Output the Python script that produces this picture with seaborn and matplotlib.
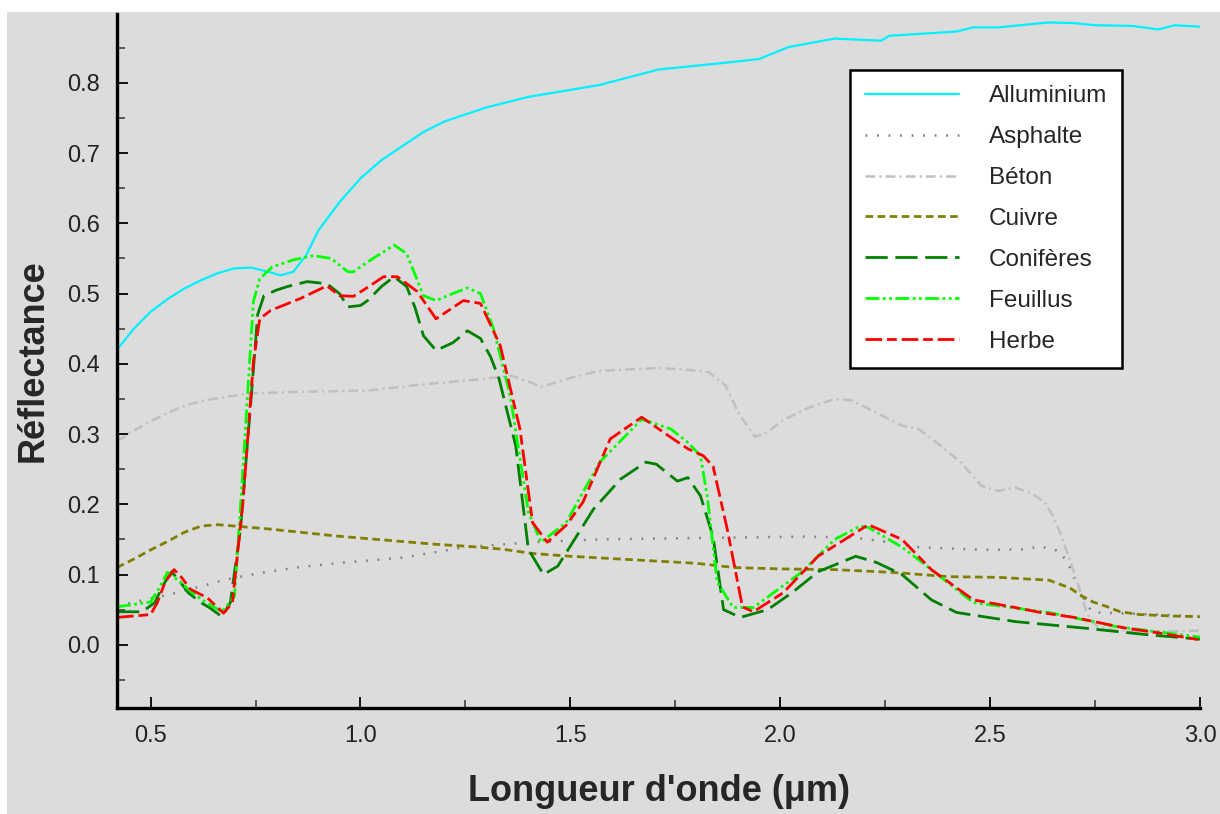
import matplotlib
matplotlib.use("Agg")
import matplotlib.pyplot as plt
from matplotlib.ticker import MultipleLocator, FixedLocator, FormatStrFormatter
from matplotlib.patches import Rectangle
import seaborn as sns

# ---------------- data ----------------
alu_x = [0.42, 0.46, 0.50, 0.54, 0.58, 0.62, 0.66, 0.70, 0.74, 0.78, 0.81, 0.84, 0.87, 0.90,
         0.95, 1.00, 1.05, 1.10, 1.15, 1.20, 1.30, 1.40, 1.50, 1.57, 1.71, 1.86, 1.95, 2.02,
         2.13, 2.24, 2.26, 2.42, 2.46, 2.52, 2.64, 2.70, 2.75, 2.84, 2.90, 2.94, 3.00]
alu_y = [0.420, 0.450, 0.474, 0.492, 0.507, 0.519, 0.529, 0.536, 0.537, 0.531, 0.526, 0.531,
         0.554, 0.590, 0.630, 0.664, 0.690, 0.710, 0.730, 0.745, 0.765, 0.780, 0.790, 0.797,
         0.819, 0.828, 0.834, 0.851, 0.863, 0.860, 0.867, 0.873, 0.879, 0.879, 0.886, 0.885,
         0.882, 0.881, 0.876, 0.882, 0.880]

asp_x = [0.42, 0.47, 0.54, 0.60, 0.68, 0.76, 0.86, 0.96, 1.10, 1.25, 1.41, 1.57, 1.80, 2.05,
         2.17, 2.26, 2.33, 2.40, 2.50, 2.58, 2.62, 2.667, 2.69, 2.70, 2.73, 2.745, 2.80, 2.90, 3.00]
asp_y = [0.055, 0.062, 0.071, 0.080, 0.093, 0.102, 0.111, 0.117, 0.124, 0.139, 0.146, 0.150,
         0.152, 0.154, 0.153, 0.146, 0.139, 0.137, 0.135, 0.136, 0.140, 0.133, 0.110, 0.096,
         0.057, 0.046, 0.045, 0.043, 0.040]

bet_x = [0.42, 0.46, 0.50, 0.54, 0.58, 0.62, 0.68, 0.74, 0.85, 1.02, 1.17, 1.25, 1.33, 1.36,
         1.40, 1.43, 1.50, 1.57, 1.64, 1.71, 1.77, 1.83, 1.87, 1.90, 1.94, 1.97, 2.01, 2.07,
         2.13, 2.17, 2.23, 2.29, 2.33, 2.37, 2.43, 2.48, 2.52, 2.56, 2.60, 2.63, 2.65, 2.67,
         2.69, 2.71, 2.73, 2.755, 2.80, 2.90, 3.00]
bet_y = [0.290, 0.305, 0.318, 0.330, 0.340, 0.347, 0.353, 0.358, 0.360, 0.362, 0.372, 0.376,
         0.381, 0.383, 0.375, 0.367, 0.380, 0.390, 0.392, 0.394, 0.392, 0.388, 0.369, 0.330,
         0.296, 0.303, 0.321, 0.338, 0.350, 0.348, 0.330, 0.312, 0.307, 0.289, 0.260, 0.226,
         0.219, 0.224, 0.215, 0.203, 0.183, 0.155, 0.120, 0.085, 0.045, 0.026, 0.020, 0.019, 0.020]

cui_x = [0.42, 0.46, 0.50, 0.54, 0.58, 0.62, 0.66, 0.70, 0.78, 0.86, 0.94, 1.02, 1.10, 1.18,
         1.26, 1.34, 1.41, 1.50, 1.65, 1.80, 1.89, 2.00, 2.13, 2.27, 2.40, 2.52, 2.64, 2.69,
         2.714, 2.745, 2.78, 2.81, 2.857, 2.93, 3.00]
cui_y = [0.110, 0.122, 0.135, 0.147, 0.160, 0.169, 0.171, 0.169, 0.165, 0.160, 0.155, 0.151,
         0.147, 0.143, 0.140, 0.136, 0.130, 0.126, 0.121, 0.116, 0.110, 0.108, 0.107, 0.103,
         0.097, 0.096, 0.092, 0.081, 0.071, 0.061, 0.054, 0.047, 0.043, 0.041, 0.040]

con_x = [0.42, 0.48, 0.51, 0.53, 0.55, 0.57, 0.59, 0.62, 0.64, 0.67, 0.69, 0.714, 0.74, 0.755,
         0.77, 0.80, 0.826, 0.873, 0.92, 0.95, 0.97, 1.00, 1.017, 1.05, 1.08, 1.11, 1.13, 1.15,
         1.18, 1.22, 1.255, 1.286, 1.31, 1.33, 1.37, 1.40, 1.436, 1.47, 1.51, 1.555, 1.62, 1.68,
         1.705, 1.73, 1.755, 1.78, 1.81, 1.84, 1.865, 1.905, 1.97, 2.03, 2.09, 2.18, 2.23, 2.29,
         2.36, 2.42, 2.56, 2.72, 2.88, 3.00]
con_y = [0.047, 0.047, 0.060, 0.085, 0.104, 0.090, 0.074, 0.060, 0.053, 0.040, 0.060, 0.164,
         0.354, 0.470, 0.497, 0.505, 0.510, 0.517, 0.514, 0.500, 0.481, 0.483, 0.490, 0.510,
         0.524, 0.510, 0.480, 0.440, 0.419, 0.430, 0.447, 0.436, 0.410, 0.379, 0.283, 0.136,
         0.100, 0.112, 0.150, 0.193, 0.236, 0.260, 0.257, 0.245, 0.233, 0.238, 0.212, 0.154,
         0.050, 0.039, 0.050, 0.075, 0.104, 0.126, 0.117, 0.100, 0.064, 0.046, 0.033, 0.024,
         0.014, 0.008]

feu_x = [0.42, 0.50, 0.52, 0.54, 0.57, 0.59, 0.62, 0.67, 0.70, 0.72, 0.745, 0.76, 0.79, 0.84,
         0.888, 0.93, 0.97, 0.983, 1.03, 1.08, 1.11, 1.15, 1.18, 1.22, 1.255, 1.286, 1.317,
         1.357, 1.40, 1.43, 1.49, 1.57, 1.67, 1.74, 1.78, 1.81, 1.826, 1.85, 1.888, 1.936, 2.05,
         2.13, 2.19, 2.21, 2.29, 2.33, 2.46, 2.64, 2.80, 3.00]
feu_y = [0.054, 0.061, 0.080, 0.103, 0.090, 0.079, 0.065, 0.047, 0.069, 0.250, 0.489, 0.521,
         0.538, 0.548, 0.554, 0.550, 0.531, 0.531, 0.550, 0.569, 0.557, 0.497, 0.490, 0.500,
         0.508, 0.500, 0.450, 0.354, 0.189, 0.146, 0.174, 0.260, 0.321, 0.307, 0.288, 0.269,
         0.212, 0.089, 0.053, 0.053, 0.103, 0.150, 0.169, 0.167, 0.139, 0.121, 0.060, 0.046,
         0.026, 0.011]

her_x = [0.42, 0.50, 0.516, 0.535, 0.556, 0.575, 0.595, 0.635, 0.674, 0.695, 0.72, 0.745, 0.76,
         0.786, 0.857, 0.92, 0.95, 0.983, 1.02, 1.055, 1.088, 1.135, 1.18, 1.245, 1.286, 1.333,
         1.38, 1.41, 1.445, 1.49, 1.53, 1.595, 1.67, 1.745, 1.78, 1.817, 1.84, 1.874, 1.91,
         1.936, 2.007, 2.09, 2.21, 2.29, 2.36, 2.46, 2.56, 2.62, 2.70, 2.82, 2.90, 3.00]
her_y = [0.039, 0.043, 0.060, 0.090, 0.107, 0.095, 0.079, 0.067, 0.045, 0.060, 0.203, 0.403,
         0.464, 0.476, 0.493, 0.511, 0.497, 0.496, 0.510, 0.524, 0.524, 0.503, 0.464, 0.490,
         0.486, 0.426, 0.307, 0.174, 0.146, 0.170, 0.203, 0.293, 0.324, 0.293, 0.279, 0.269,
         0.254, 0.164, 0.054, 0.047, 0.074, 0.126, 0.171, 0.150, 0.107, 0.064, 0.053, 0.046,
         0.039, 0.024, 0.017, 0.007]

labels = ["Alluminium", "Asphalte", "Béton", "Cuivre", "Conifères", "Feuillus", "Herbe"]
y_ticks = [0.0, 0.1, 0.2, 0.3, 0.4, 0.5, 0.6, 0.7, 0.8]
x_ticks = [0.5, 1.0, 1.5, 2.0, 2.5, 3.0]
x_label = "Longueur d'onde (μm)"
y_label = "Réflectance"

# ---------------- style ----------------
sns.set_style("ticks")
plt.rcParams["font.family"] = ["Liberation Sans", "DejaVu Sans"]
plt.rcParams["lines.scale_dashes"] = False
BG = "#DCDCDC"

fig = plt.figure(figsize=(12.2, 8.14), dpi=100, facecolor="white")
fig.patches.append(Rectangle((7 / 1220, 0), 1 - 7 / 1220, 1 - 12 / 814,
                             transform=fig.transFigure, facecolor=BG, edgecolor="none", zorder=-10))
ax = fig.add_axes([117 / 1220, 1 - 708 / 814, (1200 - 117) / 1220, (708 - 14) / 814])
ax.set_facecolor(BG)

series = [
    (alu_x, alu_y, "#00F0FF", "-", 1.6),
    (asp_x, asp_y, "#808080", (0, (1.3, 7.0)), 1.8),
    (bet_x, bet_y, "#C0C0C0", (0, (7, 3, 1.5, 3)), 1.8),
    (cui_x, cui_y, "#808000", (0, (5.5, 3.2)), 2.0),
    (con_x, con_y, "#008000", (0, (16, 5.5)), 2.0),
    (feu_x, feu_y, "#00FF00", (0, (10, 2.5, 2, 2.5, 2, 2.5)), 2.0),
    (her_x, her_y, "#FF0000", (0, (12, 3.5, 7, 3.5)), 2.0),
]
for (xs, ys, c, ls, lw), lab in zip(series, labels):
    sns.lineplot(x=xs, y=ys, ax=ax, color=c, linestyle=ls, linewidth=lw, label=lab,
                 estimator=None, sort=False)

ax.set_xlim(0.42, 3.0)
ax.set_ylim(-0.09, 0.898)
ax.xaxis.set_major_locator(FixedLocator(x_ticks))
ax.xaxis.set_minor_locator(MultipleLocator(0.25))
ax.yaxis.set_major_locator(FixedLocator(y_ticks))
ax.yaxis.set_minor_locator(MultipleLocator(0.05))
ax.xaxis.set_major_formatter(FormatStrFormatter("%.1f"))
ax.yaxis.set_major_formatter(FormatStrFormatter("%.1f"))

for s in ["top", "right"]:
    ax.spines[s].set_visible(False)
for s in ["left", "bottom"]:
    ax.spines[s].set_linewidth(2.4)
    ax.spines[s].set_color("black")

ax.tick_params(which="major", direction="in", length=8, width=1.3, color="black",
               labelsize=17, labelcolor="#222222", pad=12)
ax.tick_params(which="minor", direction="in", length=5.5, width=1.1, color="#333333")

ax.set_xlabel(x_label, fontsize=26, fontweight="bold", labelpad=20)
ax.set_ylabel(y_label, fontsize=26, fontweight="bold", labelpad=12)

leg = ax.legend(loc="upper left", bbox_to_anchor=((850 - 117) / 1083, (708 - 70) / 694),
                borderaxespad=0, frameon=True, fancybox=False, framealpha=1,
                facecolor="white", edgecolor="black", fontsize=17.5,
                handlelength=3.85, handletextpad=1.25, labelspacing=0.78, borderpad=0.62)
leg.get_frame().set_linewidth(1.8)

fig.savefig("out.png", dpi=100, facecolor=fig.get_facecolor())
